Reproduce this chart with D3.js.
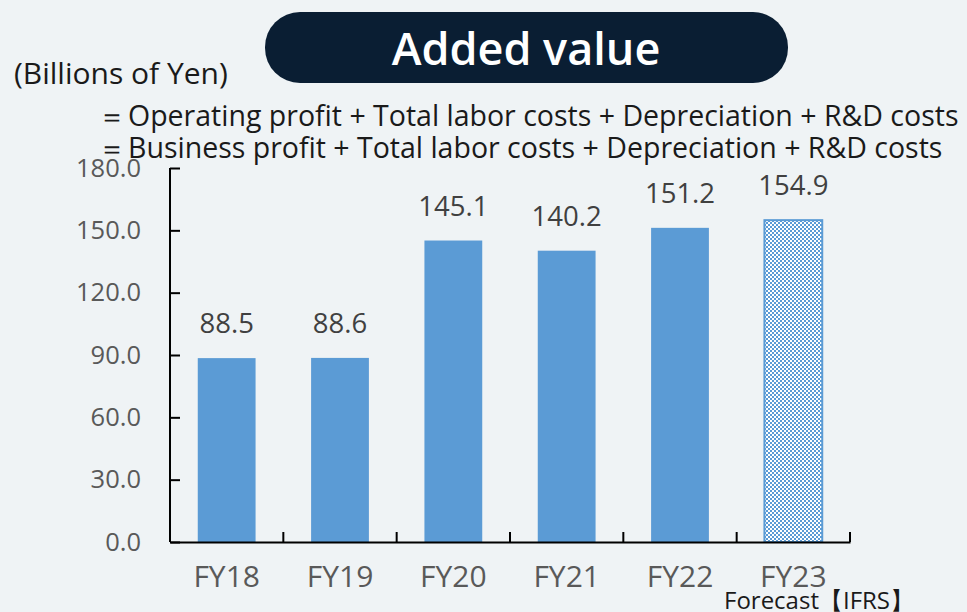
<!DOCTYPE html>
<html>
<head>
<meta charset="utf-8">
<script src="https://cdn.jsdelivr.net/npm/d3@7"></script>
<style>
  body { margin: 0; background: #eff3f5; }
  svg { display: block; font-family: "Open Sans", "Noto Sans", sans-serif; }
</style>
</head>
<body>
<svg></svg>
<script>
  var width = 967;
  var height = 612;

  // data
  var categories = ['FY18', 'FY19', 'FY20', 'FY21', 'FY22', 'FY23'];
  var values = [88.5, 88.6, 145.1, 140.2, 151.2, 154.9];
  var forecast = [false, false, false, false, false, true];
  var yTicks = [0, 30, 60, 90, 120, 150, 180];
  var formulaLines = [
    'Operating profit + Total labor costs + Depreciation + R&D costs',
    'Business profit + Total labor costs + Depreciation + R&D costs'
  ];

  var svg = d3.select('svg')
    .attr('width', width)
    .attr('height', height);

  svg.append('rect')
    .attr('width', width)
    .attr('height', height)
    .attr('fill', '#eff3f5');

  // checker pattern for forecast bar
  var defs = svg.append('defs');
  var pat = defs.append('pattern')
    .attr('id', 'checker')
    .attr('patternUnits', 'userSpaceOnUse')
    .attr('width', 4)
    .attr('height', 4);
  pat.append('rect').attr('width', 4).attr('height', 4).attr('fill', '#ffffff');
  pat.append('rect').attr('width', 2).attr('height', 2).attr('fill', '#5b9bd5');
  pat.append('rect').attr('x', 2).attr('y', 2).attr('width', 2).attr('height', 2).attr('fill', '#5b9bd5');

  var x = d3.scaleBand()
    .domain(categories)
    .range([170, 850])
    .paddingInner(0.49)
    .paddingOuter(0.245);

  var y = d3.scaleLinear()
    .domain([0, 180])
    .range([542, 168]);

  // title pill
  svg.append('rect')
    .attr('x', 265)
    .attr('y', 12)
    .attr('width', 523)
    .attr('height', 71)
    .attr('rx', 35)
    .attr('fill', '#0a1e33');
  svg.append('text')
    .attr('x', 526)
    .attr('y', 65)
    .attr('text-anchor', 'middle')
    .attr('fill', '#ffffff')
    .style('font-size', '45px')
    .style('font-weight', '600')
    .text('Added value');

  svg.append('text')
    .attr('x', 14)
    .attr('y', 84)
    .attr('fill', '#1a1a1a')
    .style('font-size', '30px')
    .text('(Billions of Yen)');

  var fl = svg.selectAll('g.formula')
    .data(formulaLines)
    .enter()
    .append('g')
    .attr('class', 'formula')
    .attr('transform', function (d, i) { return 'translate(0,' + (126 + i * 32) + ')'; });
  fl.append('text')
    .attr('x', 98)
    .attr('fill', '#1a1a1a')
    .style('font-size', '28px')
    .text('＝');
  fl.append('text')
    .attr('x', 128)
    .attr('fill', '#1a1a1a')
    .style('font-size', '28.5px')
    .text(function (d) { return d; });

  // bars
  svg.selectAll('rect.bar')
    .data(values)
    .enter()
    .append('rect')
    .attr('class', 'bar')
    .attr('x', function (d, i) { return x(categories[i]); })
    .attr('y', function (d) { return y(d); })
    .attr('width', x.bandwidth())
    .attr('height', function (d) { return y(0) - y(d); })
    .attr('fill', function (d, i) { return forecast[i] ? 'url(#checker)' : '#5b9bd5'; })
    .attr('stroke', function (d, i) { return forecast[i] ? '#5b9bd5' : 'none'; })
    .attr('stroke-width', 2);

  // value labels
  svg.selectAll('text.val')
    .data(values)
    .enter()
    .append('text')
    .attr('class', 'val')
    .attr('x', function (d, i) { return x(categories[i]) + x.bandwidth() / 2; })
    .attr('y', function (d) { return y(d) - 25; })
    .attr('text-anchor', 'middle')
    .attr('fill', '#404040')
    .style('font-size', '27.5px')
    .text(function (d) { return d.toFixed(1); });

  // y axis
  var yAxis = svg.append('g')
    .attr('transform', 'translate(170,0)')
    .call(d3.axisRight(y).tickValues(yTicks).tickSize(10).tickFormat(function (d) { return d.toFixed(1); }));
  yAxis.select('.domain').attr('stroke', '#000').attr('stroke-width', 2).attr('d', 'M0,' + y(180) + 'V' + y(0));
  yAxis.selectAll('.tick line').attr('stroke', '#000').attr('stroke-width', 2);
  yAxis.selectAll('.tick text')
    .attr('x', -29)
    .attr('text-anchor', 'end')
    .attr('fill', '#595959')
    .style('font-size', '25.5px')
    .style('font-family', '"Open Sans", "Noto Sans", sans-serif');

  // x axis
  var xAxis = svg.append('g')
    .attr('transform', 'translate(0,' + y(0) + ')')
    .call(d3.axisBottom(x).tickSize(0).tickPadding(24));
  xAxis.select('.domain').attr('stroke', '#000').attr('stroke-width', 2);
  xAxis.selectAll('.tick text')
    .attr('fill', '#595959')
    .style('font-size', '30px')
    .style('font-family', '"Open Sans", "Noto Sans", sans-serif');

  // category boundary ticks (inside)
  var bounds = categories.map(function (c) { return x(c) - x.step() * x.paddingInner() / 2 + x.step(); });
  svg.selectAll('line.bound')
    .data(bounds)
    .enter()
    .append('line')
    .attr('class', 'bound')
    .attr('x1', function (d) { return d; })
    .attr('x2', function (d) { return d; })
    .attr('y1', y(0))
    .attr('y2', y(0) - 10)
    .attr('stroke', '#000')
    .attr('stroke-width', 2);

  svg.append('text')
    .attr('x', 724)
    .attr('y', 609)
    .attr('fill', '#1a1a1a')
    .style('font-size', '24px')
    .text('Forecast【IFRS】');
</script>
</body>
</html>
